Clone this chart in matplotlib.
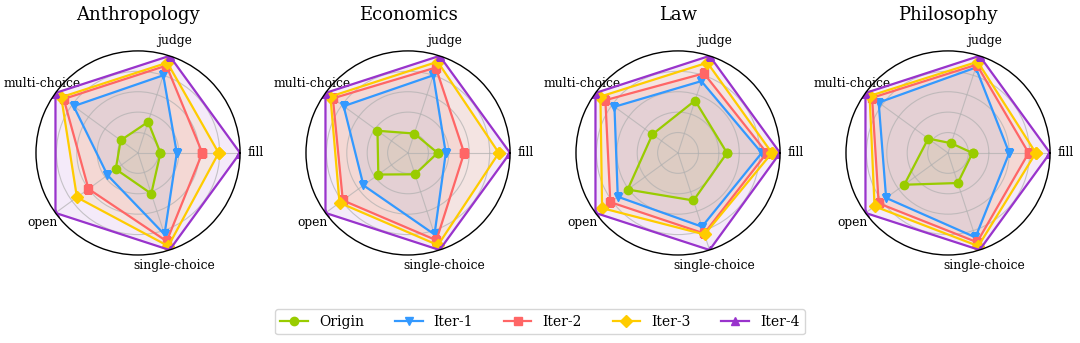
import numpy as np
import matplotlib
matplotlib.use("Agg")
import matplotlib.pyplot as plt

plt.rcParams['font.family'] = ['DejaVu Serif']

categories = ['fill', 'judge', 'multi-choice', 'open', 'single-choice']
subjects = ['Anthropology', 'Economics', 'Law', 'Philosophy']
series_names = ['Origin', 'Iter-1', 'Iter-2', 'Iter-3', 'Iter-4']

# normalized scores, one row per series (fill, judge, multi-choice, open, single-choice)
anthropology = [
    [0.22, 0.32, 0.21, 0.27, 0.42],
    [0.38, 0.80, 0.78, 0.37, 0.84],
    [0.63, 0.90, 0.90, 0.60, 0.91],
    [0.79, 0.93, 0.93, 0.74, 0.96],
    [1.00, 1.00, 1.00, 1.00, 1.00],
]
economics = [
    [0.29, 0.20, 0.37, 0.36, 0.22],
    [0.37, 0.80, 0.78, 0.54, 0.84],
    [0.55, 0.88, 0.91, 0.79, 0.90],
    [0.89, 0.94, 0.94, 0.83, 0.95],
    [1.00, 1.00, 1.00, 1.00, 1.00],
]
law = [
    [0.48, 0.54, 0.31, 0.61, 0.49],
    [0.82, 0.74, 0.77, 0.73, 0.76],
    [0.87, 0.82, 0.88, 0.82, 0.83],
    [0.92, 0.93, 0.94, 0.92, 0.84],
    [1.00, 1.00, 1.00, 1.00, 1.00],
]
philosophy = [
    [0.24, 0.10, 0.24, 0.53, 0.31],
    [0.60, 0.88, 0.84, 0.75, 0.87],
    [0.79, 0.91, 0.92, 0.84, 0.92],
    [0.86, 0.94, 0.95, 0.89, 0.96],
    [1.00, 1.00, 1.00, 1.00, 1.00],
]
all_data = [anthropology, economics, law, philosophy]

colors = ['#99cc00', '#3399ff', '#ff6666', '#ffcc00', '#9933cc']
markers = ['o', 'v', 's', 'D', '^']

fig = plt.figure(figsize=(10.8, 3.43), dpi=100)

angles = np.linspace(0, 2 * np.pi, len(categories), endpoint=False)
closed = np.concatenate([angles, angles[:1]])

lefts = [0.0333, 0.2833, 0.5333, 0.7833]
handles = []
for k, (subject, data) in enumerate(zip(subjects, all_data)):
    ax = fig.add_axes([lefts[k], 0.2566, 0.189, 0.595], projection='polar')
    ax.set_ylim(0, 1)
    ax.set_yticks([0.2, 0.4, 0.6, 0.8])
    ax.set_yticklabels([])
    ax.set_thetagrids(np.degrees(angles), categories, fontsize=8.8)
    ax.tick_params(axis='x', pad=1)
    ax.grid(color='#b0b0b0', linewidth=0.8, alpha=0.7)
    ax.spines['polar'].set_color('black')
    ax.spines['polar'].set_linewidth(1.0)

    for i, vals in enumerate(data):
        v = np.concatenate([vals, vals[:1]])
        line, = ax.plot(closed, v, color=colors[i], marker=markers[i],
                        linewidth=1.6, markersize=6, label=series_names[i])
        ax.fill(closed, v, color=colors[i], alpha=0.1)
        if k == 0:
            handles.append(line)

    ax.set_title(subject, fontsize=13, pad=22)

fig.legend(handles, series_names, loc='center', bbox_to_anchor=(0.5, 0.062),
           ncol=5, fontsize=10, columnspacing=2.2, handlelength=2.0,
           frameon=True, fancybox=True)

fig.savefig('out.png', dpi=100)
